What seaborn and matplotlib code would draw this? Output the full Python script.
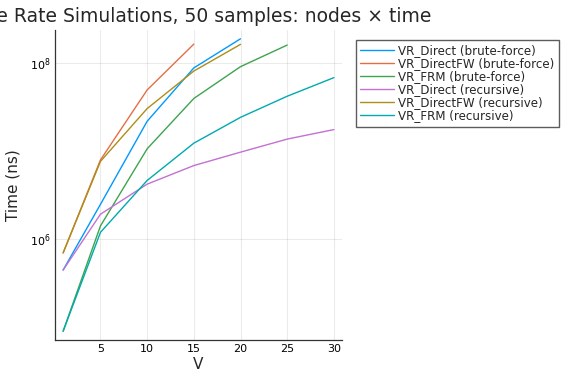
import numpy as np
import pandas as pd
import seaborn as sns
import matplotlib
matplotlib.use("Agg")
import matplotlib.pyplot as plt

# node counts and timings (ns)
v_bf_direct = [1, 5, 10, 15, 20]
t_bf_direct = [4.47e5, 2.5e6, 2.2e7, 8.9e7, 1.91e8]
v_bf_directfw = [1, 5, 10, 15]
t_bf_directfw = [7.0e5, 8.0e6, 5.0e7, 1.66e8]
v_bf_frm = [1, 5, 10, 15, 20, 25]
t_bf_frm = [9.0e4, 1.42e6, 1.07e7, 4.0e7, 9.2e7, 1.62e8]
v_rec_direct = [1, 5, 10, 15, 20, 25, 30]
t_rec_direct = [4.47e5, 1.93e6, 4.24e6, 6.9e6, 9.8e6, 1.38e7, 1.77e7]
v_rec_directfw = [1, 5, 10, 15, 20]
t_rec_directfw = [7.0e5, 7.7e6, 3.07e7, 8.2e7, 1.65e8]
v_rec_frm = [1, 5, 10, 15, 20, 25, 30]
t_rec_frm = [9.0e4, 1.2e6, 4.67e6, 1.24e7, 2.44e7, 4.24e7, 6.9e7]

names = ["VR_Direct (brute-force)", "VR_DirectFW (brute-force)", "VR_FRM (brute-force)",
         "VR_Direct (recursive)", "VR_DirectFW (recursive)", "VR_FRM (recursive)"]
colors = ["#009AFA", "#E36F47", "#3EA44E", "#C371D2", "#AC8E18", "#00AAAE"]
series = [(v_bf_direct, t_bf_direct), (v_bf_directfw, t_bf_directfw), (v_bf_frm, t_bf_frm),
          (v_rec_direct, t_rec_direct), (v_rec_directfw, t_rec_directfw), (v_rec_frm, t_rec_frm)]

df = pd.concat([pd.DataFrame({"V": v, "t": t, "series": n}) for n, (v, t) in zip(names, series)],
               ignore_index=True)

sns.set_style("white")
plt.rcParams["font.family"] = ["DejaVu Sans"]

fig = plt.figure(figsize=(5.76, 3.84), dpi=100)
ax = fig.add_axes([55/576, 1 - 340/384, (342-55)/576, (340-30)/384])

sns.lineplot(data=df, x="V", y="t", hue="series", hue_order=names,
             palette=dict(zip(names, colors)), sort=False, lw=1, ax=ax, legend=False)

ax.set_yscale("log")
ax.margins(x=0.03, y=0.03)
ax.set_yticks([1e6, 1e8])
ax.yaxis.set_minor_locator(matplotlib.ticker.NullLocator())
ax.set_xticks([5, 10, 15, 20, 25, 30])
ax.grid(True, color="#000000", alpha=0.08, lw=0.8)
for s in ["top", "right"]:
    ax.spines[s].set_visible(False)
for s in ["left", "bottom"]:
    ax.spines[s].set_color("#333333")
    ax.spines[s].set_linewidth(0.9)
ax.tick_params(direction="in", length=3, width=0.8, labelsize=8, colors="#333333",
               labelcolor="black", pad=3)
ax.set_xlabel("V", fontsize=11, labelpad=2)
ax.set_ylabel("Time (ns)", fontsize=11, labelpad=7)

# title is wider than the canvas and runs off the left edge, as in the reference
fig.text(431/576, 1 - 16/384, "Variable Rate Simulations, 50 samples: nodes × time",
         fontsize=13.5, ha="right", va="center")

handles = [plt.Line2D([], [], color=c, lw=1) for c in colors]
fig.legend(handles, names, loc="upper left", bbox_to_anchor=(352/576, 1 - 36/384),
           fontsize=8.55, frameon=True, fancybox=False, edgecolor="#333333",
           handlelength=2.8, borderpad=0.4, labelspacing=0.0, handletextpad=0.4,
           borderaxespad=0.3)

fig.savefig("out.png", dpi=100)
